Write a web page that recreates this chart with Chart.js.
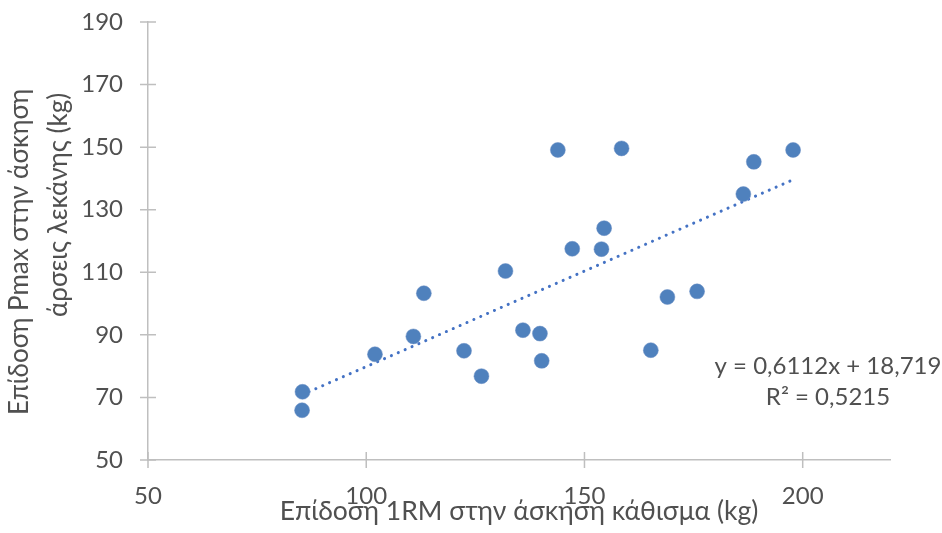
<!DOCTYPE html>
<html>
<head>
<meta charset="utf-8">
<script src="https://cdn.jsdelivr.net/npm/chart.js@4"></script>
<style>
  html, body { margin: 0; padding: 0; background: #fff; }
  #wrap { width: 942px; height: 533px; }
</style>
</head>
<body>
<div id="wrap"><canvas id="scatterChart" width="942" height="533"></canvas></div>
<script>
// values
const squat1RM = [85.4, 85.3, 102.0, 110.8, 113.2, 122.4, 126.4, 131.9, 135.9, 139.8, 140.2,
                  143.9, 147.2, 153.9, 154.5, 158.5, 165.2, 169.0, 175.8, 186.4, 188.8, 197.8];
const hipPmax  = [71.8, 65.9, 83.8, 89.5, 103.3, 84.9, 76.8, 110.4, 91.5, 90.4, 81.7,
                  149.1, 117.5, 117.4, 124.1, 149.6, 85.1, 102.1, 103.9, 135.0, 145.3, 149.1];
const xTickValues = [50, 100, 150, 200];
const trendSlope = 0.6112;
const trendIntercept = 18.719;
const trendLabel = ['y = 0,6112x + 18,719', 'R² = 0,5215'];
const xTitle = 'Επίδοση 1RM στην άσκηση κάθισμα (kg)';
const yTitle = ['Επίδοση Pmax στην άσκηση', 'άρσεις λεκάνης (kg)'];

const FONT = 'Lato, "Liberation Sans", sans-serif';
const TEXT = '#505050';
const AXIS = '#bfbfbf';

const points = squat1RM.map((x, i) => ({ x: x, y: hipPmax[i] }));
const xMin = Math.min(...squat1RM), xMax = Math.max(...squat1RM);
const trend = [xMin, xMax].map(x => ({ x: x, y: trendSlope * x + trendIntercept }));

// Excel-style tick marks crossing the axis lines, y title, trendline label
const excelBits = {
    id: 'excelBits',
    afterDraw(chart) {
        const ctx = chart.ctx;
        const xs = chart.scales.x, ys = chart.scales.y;
        const area = chart.chartArea;
        ctx.save();
        ctx.strokeStyle = AXIS;
        ctx.lineWidth = 1.5;
        ctx.beginPath();
        ys.ticks.forEach(t => {
            const py = ys.getPixelForValue(t.value);
            ctx.moveTo(area.left - 8, py);
            ctx.lineTo(area.left + 8, py);
        });
        xs.ticks.forEach(t => {
            const px = xs.getPixelForValue(t.value);
            ctx.moveTo(px, area.bottom - 8);
            ctx.lineTo(px, area.bottom + 8);
        });
        ctx.stroke();

        ctx.fillStyle = TEXT;
        ctx.textAlign = 'center';
        ctx.textBaseline = 'middle';

        // y axis title, two rotated lines (Excel layout)
        ctx.font = '26px ' + FONT;
        [[20, 252], [59, 205]].forEach((pos, i) => {
            ctx.save();
            ctx.translate(pos[0], pos[1]);
            ctx.rotate(-Math.PI / 2);
            ctx.fillText(yTitle[i], 0, 0);
            ctx.restore();
        });

        ctx.font = '24px ' + FONT;
        const cx = area.right - 62;
        ctx.fillText(trendLabel[0], cx, 366);
        ctx.fillText(trendLabel[1], cx, 397);
        ctx.restore();
    }
};

const chart = new Chart(document.getElementById('scatterChart').getContext('2d'), {
    type: 'scatter',
    data: {
        datasets: [{
            label: 'data',
            data: points,
            backgroundColor: '#4f81bd',
            borderColor: '#6a8fc4',
            borderWidth: 0.5,
            pointRadius: 7.5,
            pointHoverRadius: 7.5
        }, {
            type: 'line',
            label: 'trend',
            data: trend,
            borderColor: '#4472c4',
            borderWidth: 3,
            borderDash: [0.1, 7.4],
            borderCapStyle: 'round',
            pointRadius: 0,
            fill: false
        }]
    },
    plugins: [excelBits],
    options: {
        responsive: false,
        animation: false,
        layout: { padding: { top: 22, right: 52, left: 0, bottom: 0 } },
        plugins: {
            legend: { display: false },
            tooltip: { enabled: false }
        },
        scales: {
            x: {
                type: 'linear',
                min: 50,
                max: 220,
                afterFit: s => { s.height = 73; },
                afterBuildTicks: s => { s.ticks = xTickValues.map(v => ({ value: v })); },
                grid: { display: false, drawTicks: false },
                border: { display: true, color: AXIS, width: 1.5 },
                ticks: {
                    padding: 22,
                    color: TEXT,
                    font: { family: FONT, size: 24 }
                },
                title: {
                    display: true,
                    text: xTitle,
                    color: TEXT,
                    font: { family: FONT, size: 26.5 },
                    padding: { top: 0, bottom: 6 }
                }
            },
            y: {
                type: 'linear',
                min: 50,
                max: 190,
                afterFit: s => { s.width = 148; s.paddingTop = 0; s.paddingBottom = 0; },
                ticks: {
                    stepSize: 20,
                    padding: 25,
                    color: TEXT,
                    font: { family: FONT, size: 24 }
                },
                grid: { display: false, drawTicks: false },
                border: { display: true, color: AXIS, width: 1.5 }
            }
        }
    }
});
</script>
</body>
</html>
